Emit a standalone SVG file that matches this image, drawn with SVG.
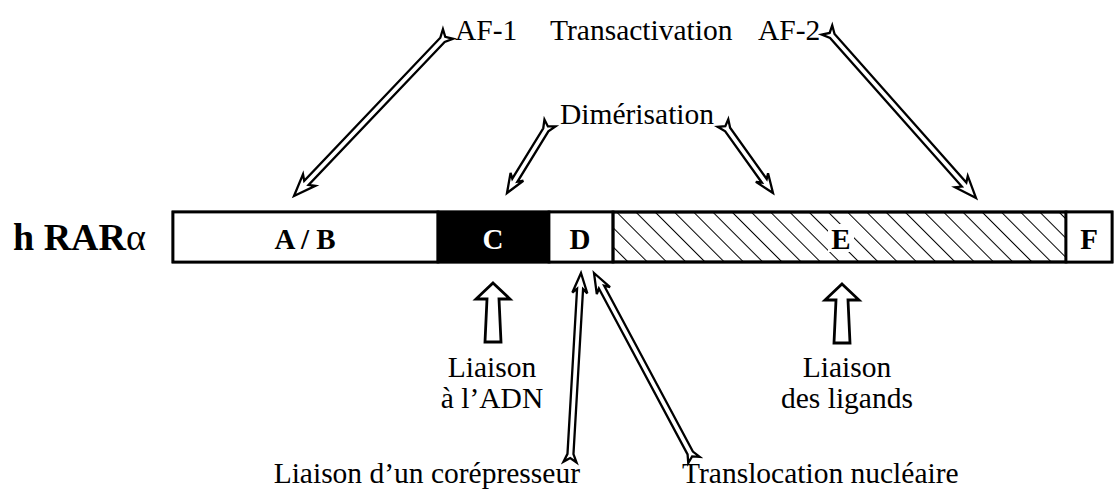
<svg xmlns="http://www.w3.org/2000/svg" width="1117" height="497" viewBox="0 0 1117 497">
<defs>
<style>
.lbl{font-family:"Liberation Serif","Times New Roman",serif;font-size:29.5px;fill:#000}
.seg{font-family:"Liberation Serif","Times New Roman",serif;font-size:29px;font-weight:bold;fill:#000;text-anchor:middle}
.arr{fill:#fff;stroke:#000;stroke-width:2.3;stroke-linejoin:miter}
.blk{fill:#fff;stroke:#000;stroke-width:2.8;stroke-linejoin:miter}
.box{fill:#fff;stroke:#000;stroke-width:2.8}
</style>
<pattern id="hatch" patternUnits="userSpaceOnUse" width="13.6" height="13.6" patternTransform="rotate(-45)">
<line x1="0" y1="-1" x2="0" y2="15" stroke="#000" stroke-width="2"/>
</pattern>
</defs>
<rect width="1117" height="497" fill="#fff"/>

<text class="lbl" x="13" y="250" style="font-size:38px;font-weight:bold">h RAR<tspan style="font-weight:normal">α</tspan></text>

<g id="bar">
<rect class="box" x="173" y="212" width="939" height="50"/>
<g id="seg-AB"><rect class="box" x="173" y="212" width="265" height="50"/><text class="seg" x="305" y="249">A / B</text></g>
<g id="seg-C"><rect x="438" y="212" width="111" height="50" fill="#000" stroke="#000" stroke-width="2.8"/><text class="seg" x="493" y="249" style="fill:#fff">C</text></g>
<g id="seg-D"><rect class="box" x="549" y="212" width="64" height="50"/><text class="seg" x="580" y="249">D</text></g>
<g id="seg-E"><rect x="613" y="212" width="453" height="50" fill="url(#hatch)" stroke="#000" stroke-width="2.8"/><rect x="828" y="224" width="26" height="28" fill="#fff"/><text class="seg" x="841" y="249">E</text></g>
<g id="seg-F"><rect class="box" x="1066" y="212" width="46" height="50"/><text class="seg" x="1089" y="249">F</text></g>
</g>

<g id="labels">
<text class="lbl" x="455" y="40">AF-1</text>
<text class="lbl" x="550" y="40">Transactivation</text>
<text class="lbl" x="758" y="40">AF-2</text>
<text class="lbl" x="560" y="124">Dimérisation</text>
<g id="adn"><text class="lbl" x="492" y="377" text-anchor="middle">Liaison</text><text class="lbl" x="492" y="408" text-anchor="middle">à l’ADN</text></g>
<g id="ligands"><text class="lbl" x="847" y="377" text-anchor="middle">Liaison</text><text class="lbl" x="847" y="408" text-anchor="middle">des ligands</text></g>
<text class="lbl" x="580" y="483" text-anchor="end">Liaison d’un corépresseur</text>
<text class="lbl" x="682" y="483">Translocation nucléaire</text>
</g>

<g id="connectors">
<g transform="translate(448,34) rotate(133.55)"><path class="arr" d="M223.5,0 L201.5,8.5 L205.5,3 L8,3 L0,7 L4,0 L0,-7 L8,-3 L205.5,-3 L201.5,-8.5 Z"/></g>
<g transform="translate(827,30) rotate(48.43)"><path class="arr" d="M224.6,0 L202.6,8.5 L206.6,3 L8,3 L0,7 L4,0 L0,-7 L8,-3 L206.6,-3 L202.6,-8.5 Z"/></g>
<g transform="translate(550,123) rotate(121.56)"><path class="arr" d="M82.15,0 L63.15,7.5 L67.15,3 L8,3 L0,6.5 L4,0 L0,-6.5 L8,-3 L67.15,-3 L63.15,-7.5 Z"/></g>
<g transform="translate(723,123) rotate(54.46)"><path class="arr" d="M86,0 L67,7.5 L71,3 L8,3 L0,6.5 L4,0 L0,-6.5 L8,-3 L71,-3 L67,-7.5 Z"/></g>
<g transform="translate(570,462) rotate(-86.67)"><path class="arr" d="M189.3,0 L169.3,7.5 L173.3,3 L8,3 L0,6.5 L4,0 L0,-6.5 L8,-3 L173.3,-3 L169.3,-7.5 Z"/></g>
<g transform="translate(694,460) rotate(-118.14)"><path class="arr" d="M212.06,0 L192.06,7.5 L196.06,3 L8,3 L0,6.5 L4,0 L0,-6.5 L8,-3 L196.06,-3 L192.06,-7.5 Z"/></g>
<path class="blk" d="M493,283 L510,299 L499,299 L501,342 L485,342 L487,299 L476,299 Z"/>
<path class="blk" d="M842,284 L859,300 L848,300 L850,343 L834,343 L836,300 L825,300 Z"/>
</g>
</svg>
